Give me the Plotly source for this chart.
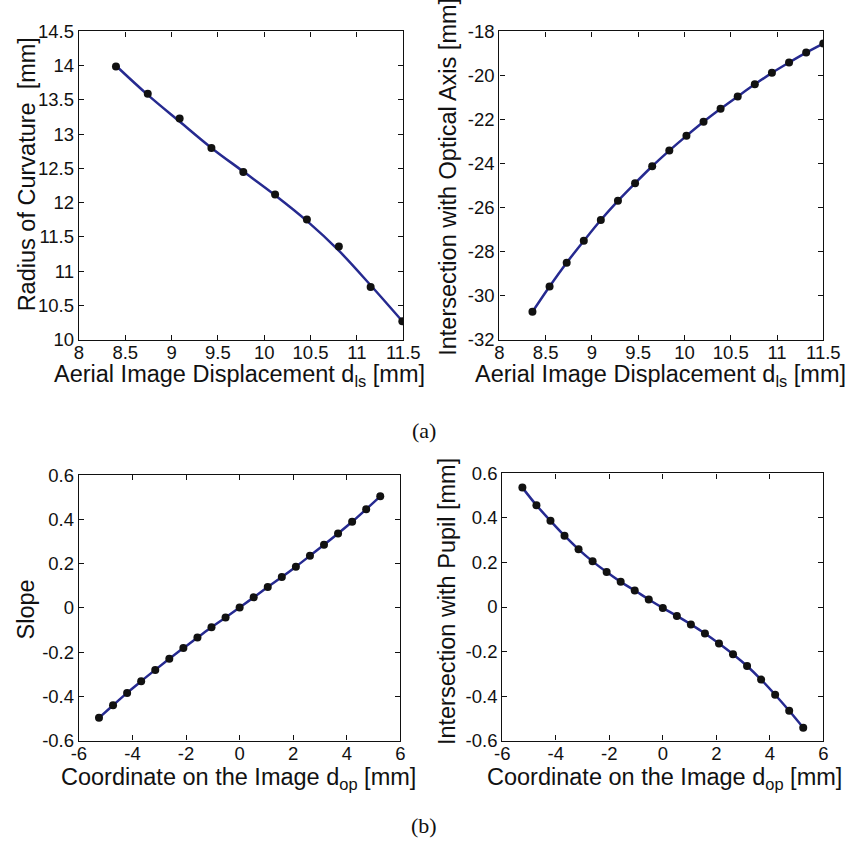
import plotly.graph_objects as go

# ---- Data ----
# (a) left: Radius of curvature vs aerial image displacement
a1_x = [8.40, 8.743, 9.087, 9.43, 9.774, 10.117, 10.46, 10.805, 11.148, 11.49]
a1_y = [13.99, 13.59, 13.23, 12.80, 12.45, 12.12, 11.755, 11.36, 10.77, 10.27]
a1_fit = [14.00, 13.575, 13.185, 12.80, 12.455, 12.11, 11.735, 11.30, 10.795, 10.27]

# (a) right: Intersection with optical axis vs aerial image displacement
a2_x = [8.357, 8.542, 8.727, 8.912, 9.096, 9.281, 9.466, 9.651, 9.836, 10.021,
        10.206, 10.39, 10.575, 10.76, 10.945, 11.13, 11.315, 11.50]
a2_y = [-30.73, -29.58, -28.50, -27.51, -26.56, -25.69, -24.89, -24.12, -23.41,
        -22.74, -22.10, -21.51, -20.95, -20.40, -19.88, -19.41, -18.96, -18.55]

# (b) left: Slope vs coordinate on the image
b_x = [-5.25, -4.725, -4.2, -3.675, -3.15, -2.625, -2.1, -1.575, -1.05, -0.525, 0.0,
       0.525, 1.05, 1.575, 2.1, 2.625, 3.15, 3.675, 4.2, 4.725, 5.25]
b1_y = [-0.497, -0.440, -0.384, -0.331, -0.280, -0.230, -0.181, -0.134, -0.087, -0.043, 0.002,
        0.048, 0.095, 0.140, 0.187, 0.236, 0.286, 0.337, 0.390, 0.447, 0.505]
# (b) right: Intersection with pupil vs coordinate on the image
b2_y = [0.536, 0.457, 0.387, 0.320, 0.259, 0.205, 0.157, 0.113, 0.074, 0.034, -0.004,
        -0.040, -0.078, -0.119, -0.164, -0.212, -0.265, -0.326, -0.394, -0.466, -0.542]

a_xticks = [8, 8.5, 9, 9.5, 10, 10.5, 11, 11.5]
a1_yticks = [10, 10.5, 11, 11.5, 12, 12.5, 13, 13.5, 14, 14.5]
a2_yticks = [-32, -30, -28, -26, -24, -22, -20, -18]
b_xticks = [-6, -4, -2, 0, 2, 4, 6]
b_yticks = [-0.6, -0.4, -0.2, 0, 0.2, 0.4, 0.6]

LINE = "#262a90"
FONT = "Liberation Sans"
W, H = 867, 856

fig = go.Figure()

def add_panel(n, xs, ys_line, ys_pts):
    xa = "x" if n == 1 else f"x{n}"
    ya = "y" if n == 1 else f"y{n}"
    fig.add_trace(go.Scatter(x=xs, y=ys_line, mode="lines", xaxis=xa, yaxis=ya,
                             line=dict(color=LINE, width=2.5, shape="spline"),
                             showlegend=False, hoverinfo="skip"))
    fig.add_trace(go.Scatter(x=xs, y=ys_pts, mode="markers", xaxis=xa, yaxis=ya,
                             marker=dict(color="#111111", size=8),
                             showlegend=False))

add_panel(1, a1_x, a1_fit, a1_y)
add_panel(2, a2_x, a2_y, a2_y)
add_panel(3, b_x, b1_y, b1_y)
add_panel(4, b_x, b2_y, b2_y)

def px_x(p):
    return p / W

def px_y(p):
    return 1 - p / H

axcommon = dict(showline=True, linecolor="#111111", linewidth=1.3, mirror="allticks",
                ticks="inside", ticklen=5, tickcolor="#111111", showgrid=False,
                zeroline=False, tickfont=dict(family=FONT, size=18.5, color="#111111"))

doms = {
    1: ([px_x(73), px_x(407)], [px_y(337), px_y(21)]),
    2: ([px_x(506), px_x(839.5)], [px_y(337), px_y(21)]),
    3: ([px_x(73), px_x(404)], [px_y(748), px_y(476)]),
    4: ([px_x(509), px_x(839.5)], [px_y(748), px_y(474)]),
}
ranges = {
    1: ([8, 11.5], [10, 14.5], a_xticks, a1_yticks),
    2: ([8, 11.5], [-32, -18], a_xticks, a2_yticks),
    3: ([-6, 6], [-0.6, 0.6], b_xticks, b_yticks),
    4: ([-6, 6], [-0.6, 0.6], b_xticks, b_yticks),
}
layout_axes = {}
for n in range(1, 5):
    xk = "xaxis" if n == 1 else f"xaxis{n}"
    yk = "yaxis" if n == 1 else f"yaxis{n}"
    xa = "x" if n == 1 else f"x{n}"
    ya = "y" if n == 1 else f"y{n}"
    xr, yr, xt, yt = ranges[n]
    layout_axes[xk] = dict(axcommon, domain=doms[n][0], range=xr, tickvals=xt,
                           ticktext=[f"{v:g}" for v in xt], anchor=ya,
                           ticklabelstandoff=-4)
    layout_axes[yk] = dict(axcommon, domain=doms[n][1], range=yr, tickvals=yt,
                           ticktext=[f"{v:g}" for v in yt], anchor=xa)

fig.update_layout(**layout_axes)

TF = dict(family=FONT, size=23.5, color="#111111")
ann = []
def A(text, x, y, angle=0, font=TF):
    ann.append(dict(text=text, x=px_x(x), y=px_y(y), xref="paper", yref="paper",
                    showarrow=False, textangle=angle, font=font,
                    xanchor="center", yanchor="middle"))

A("Aerial Image Displacement d<sub>ls</sub> [mm]", 238, 374)
A("Aerial Image Displacement d<sub>ls</sub> [mm]", 672, 374)
A("Radius of Curvature&nbsp; [mm]", 19, 167, -90)
A("Intersection with Optical Axis [mm]", 453, 170, -90)
A("Coordinate on the Image d<sub>op</sub> [mm]", 237, 787)
A("Coordinate on the Image d<sub>op</sub> [mm]", 676, 787)
A("Slope", 19, 613, -90)
A("Intersection with Pupil [mm]", 452, 605, -90)
SF = dict(family="Liberation Serif", size=22, color="#111111")
A("(a)", 428, 430, 0, SF)
A("(b)", 428, 835, 0, SF)

fig.update_layout(annotations=ann, width=W, height=H,
                  margin=dict(l=0, r=0, t=0, b=0),
                  paper_bgcolor="white", plot_bgcolor="white")

fig.write_html("out.html")
